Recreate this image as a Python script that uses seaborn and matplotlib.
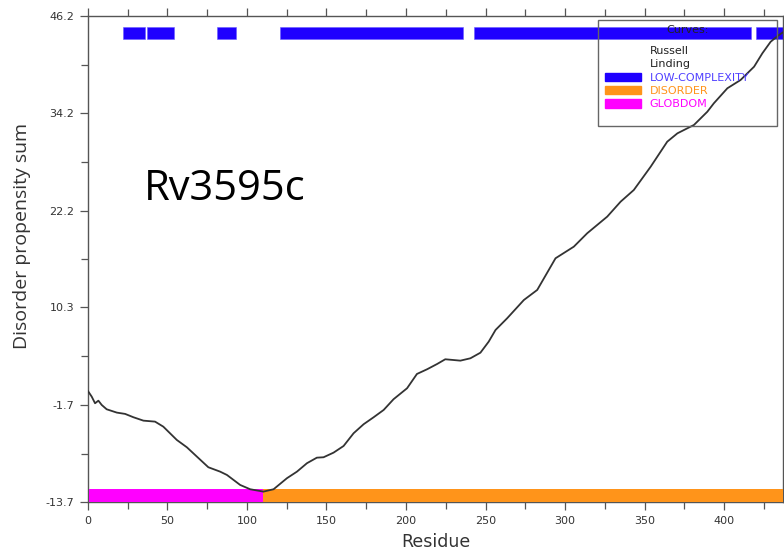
import numpy as np
import pandas as pd
import matplotlib
matplotlib.use("Agg")
import matplotlib.pyplot as plt
from matplotlib.patches import Patch, Rectangle
from matplotlib.lines import Line2D
import seaborn as sns

# disorder propensity sum along the sequence
residue = [0, 2.5, 4.6, 6.7, 8.8, 11.9, 18.3, 23.5, 28.7, 35.0, 42.3, 47.5,
           56.0, 62.3, 68.6, 75.8, 83.2, 87.5, 95.8, 102.1, 110.4, 116.8,
           125.2, 131.5, 137.8, 144.0, 148.2, 154.5, 160.8, 167.1, 173.4,
           179.7, 186.0, 192.2, 200.7, 206.9, 213.3, 219.6, 224.7, 234.2,
           240.5, 246.8, 252.0, 256.3, 263.6, 274.1, 282.5, 294.0, 305.5,
           313.9, 326.5, 334.9, 343.2, 353.8, 364.2, 370.6, 381.0, 389.4,
           393.5, 402.0, 410.3, 418.8, 424.0, 429.2, 434.0, 437.0]
score = [0.05, -0.68, -1.5, -1.18, -1.71, -2.24, -2.65, -2.81, -3.22, -3.64,
         -3.76, -4.38, -6.02, -6.92, -8.07, -9.38, -9.92, -10.33, -11.56,
         -12.09, -12.38, -12.09, -10.73, -9.92, -8.88, -8.2, -8.15, -7.58,
         -6.76, -5.19, -4.08, -3.22, -2.32, -1.0, 0.35, 2.11, 2.69, 3.34,
         3.92, 3.75, 4.04, 4.73, 6.09, 7.53, 8.97, 11.22, 12.46, 16.36,
         17.79, 19.44, 21.49, 23.33, 24.77, 27.64, 30.72, 31.75, 32.78,
         34.41, 35.45, 37.3, 38.32, 39.96, 41.61, 43.03, 43.8, 44.2]

# predicted regions (start, end residue)
lowcomp_start = [22, 37, 81, 121, 243, 420]
lowcomp_end = [36, 54, 93, 236, 417, 438]
globdom_start = [1]
globdom_end = [110]
disorder_start = [110]
disorder_end = [438]

yticks = [46.2, 34.2, 22.2, 10.3, -1.7, -13.7]
xticks = [0, 50, 100, 150, 200, 250, 300, 350, 400]

BLUE = "#1f00ff"
ORANGE = "#ff941a"
MAGENTA = "#ff00ff"

sns.set_style("ticks")
plt.rcParams["font.family"] = ["DejaVu Sans"]

fig = plt.figure(figsize=(7.84, 5.52), dpi=100)
ax = fig.add_axes([0.1119, 0.0900, 0.8869, 0.881])

df = pd.DataFrame({"Residue": residue, "score": score})
sns.lineplot(data=df, x="Residue", y="score", ax=ax, color="#333333",
             lw=1.3, zorder=5)

lc_s = np.array(lowcomp_start)
lc_e = np.array(lowcomp_end)
ax.barh(y=44.09, width=lc_e - lc_s, left=lc_s, height=1.44, color=BLUE,
        edgecolor="#6a5cff", lw=0.4, zorder=2)
ax.barh(y=-12.9, width=np.array(globdom_end) - np.array(globdom_start),
        left=globdom_start, height=1.61, color=MAGENTA, lw=0, zorder=3)
ax.barh(y=-12.9, width=np.array(disorder_end) - np.array(disorder_start),
        left=disorder_start, height=1.61, color=ORANGE, lw=0, zorder=3)

ax.set_xlim(0, 437)
ax.set_ylim(-13.7, 46.2)
ax.set_xticks(xticks)
ax.set_xticks(np.arange(25, 437, 50), minor=True)
ax.set_yticks(yticks)
ax.set_yticklabels([str(t) for t in yticks])
ax.set_yticks([40.2, 28.2, 16.25, 4.3, -7.7], minor=True)
ax.tick_params(axis="both", which="major", length=6, width=0.9,
               color="#555555", labelsize=8, labelcolor="#333333")
ax.tick_params(axis="both", which="minor", length=5, width=0.9,
               color="#555555")
ax.tick_params(axis="x", top=True, which="both", direction="out")
ax.tick_params(axis="y", right=True, which="both")
for s in ax.spines.values():
    s.set_color("#555555")
    s.set_linewidth(1.0)

ax.set_xlabel("Residue", fontsize=12.5, color="#333333", labelpad=5.5)
ax.set_ylabel("Disorder propensity sum", fontsize=14, color="#333333",
              family=["Open Sans", "DejaVu Sans"])
ax.yaxis.set_label_coords(-0.081, 0.548)

ax.text(0.081, 0.621, "Rv3595c", transform=ax.transAxes, fontsize=30,
        family=["Open Sans", "DejaVu Sans"], va="baseline", ha="left",
        color="black")

# legend: title, entries and frame
ax.text(0.8625, 0.972, "Curves:", transform=ax.transAxes, fontsize=8,
        ha="center", va="center", color="#222222", zorder=7)
handles = [Line2D([], [], color="none", label="Russell"),
           Line2D([], [], color="none", label="Linding"),
           Patch(color=BLUE, label="LOW-COMPLEXITY"),
           Patch(color=ORANGE, label="DISORDER"),
           Patch(color=MAGENTA, label="GLOBDOM")]
leg = ax.legend(handles=handles, loc="upper left",
                bbox_to_anchor=(0.744, 0.938), frameon=False, fontsize=8,
                borderpad=0, borderaxespad=0,
                handlelength=3.2, handleheight=0.8, handletextpad=0.8,
                labelspacing=0.28)
for txt, c in zip(leg.get_texts(),
                  ["#222222", "#222222", "#5040ff", ORANGE, MAGENTA]):
    txt.set_color(c)
leg.set_zorder(6)
ax.add_patch(Rectangle((0.734, 0.774), 0.257, 0.218, transform=ax.transAxes,
                       fill=False, ec="#666666", lw=1.0, zorder=6))

fig.savefig("out.png", dpi=100)
